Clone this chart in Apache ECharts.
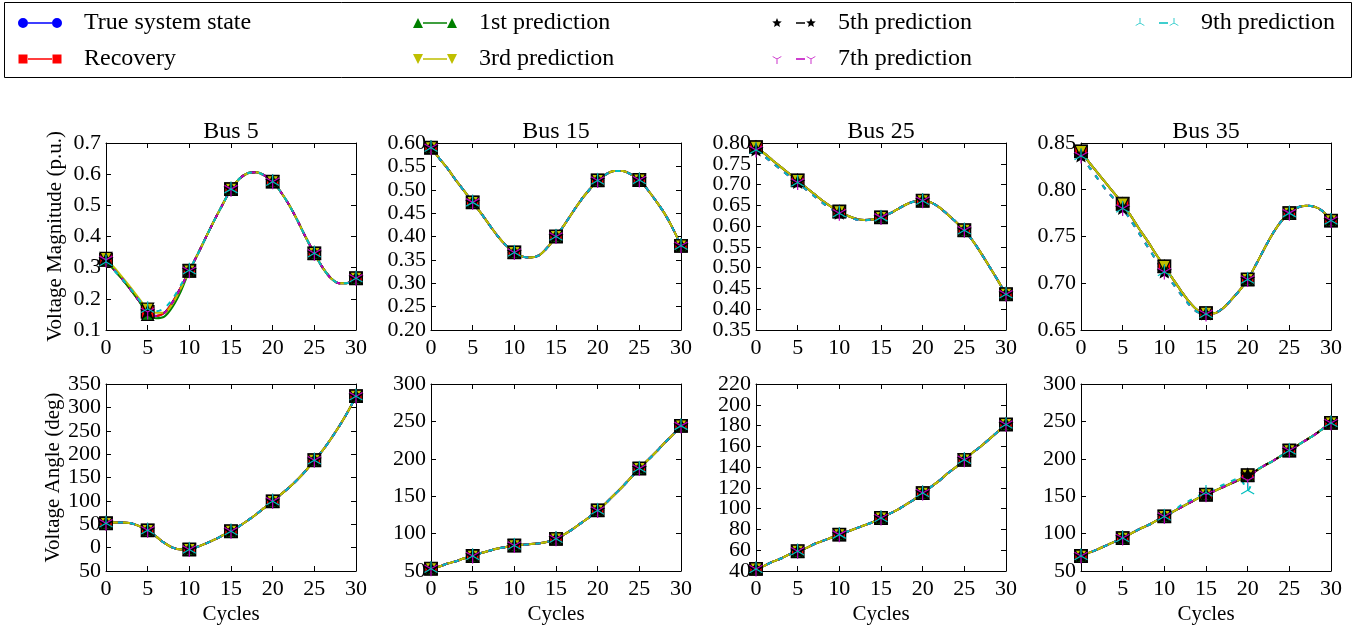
<!DOCTYPE html>
<html>
<head>
<meta charset="utf-8">
<script src="https://cdn.jsdelivr.net/npm/echarts@6/dist/echarts.min.js"></script>
<style>
  html, body { margin: 0; padding: 0; background: #fff; }
  #chart { width: 1364px; height: 626px; }
</style>
</head>
<body>
<div id="chart"></div>
<script>
// x values (cycles)
var cycles = [0,1,2,3,4,5,6,7,8,9,10,11,12,13,14,15,16,17,18,19,20,21,22,23,24,25,26,27,28,29,30];

// voltage magnitude (p.u.), true system state
var bus5Mag  = [0.325,0.292,0.262,0.228,0.192,0.158,0.145,0.155,0.190,0.238,0.290,0.343,0.398,0.452,0.503,0.552,0.585,0.603,0.606,0.596,0.576,0.542,0.500,0.450,0.396,0.346,0.300,0.266,0.250,0.251,0.266];
var bus15Mag = [0.590,0.567,0.545,0.520,0.497,0.473,0.450,0.425,0.401,0.381,0.366,0.357,0.355,0.360,0.377,0.400,0.425,0.452,0.478,0.500,0.520,0.533,0.540,0.540,0.533,0.521,0.500,0.476,0.450,0.418,0.380];
var bus25Mag = [0.790,0.775,0.758,0.742,0.726,0.710,0.693,0.677,0.661,0.647,0.635,0.625,0.618,0.615,0.616,0.621,0.630,0.641,0.652,0.659,0.661,0.657,0.645,0.628,0.610,0.590,0.565,0.535,0.503,0.470,0.436];
var bus35Mag = [0.841,0.829,0.818,0.807,0.796,0.785,0.772,0.758,0.745,0.731,0.718,0.705,0.692,0.680,0.671,0.668,0.668,0.673,0.682,0.692,0.704,0.720,0.737,0.753,0.766,0.775,0.781,0.783,0.782,0.777,0.767];

// predictions that visibly leave the true curve
var bus5Mag1st   = [0.325,0.292,0.262,0.228,0.192,0.150,0.138,0.143,0.175,0.225,0.290,0.343,0.398,0.452,0.503,0.552,0.585,0.603,0.606,0.596,0.576,0.542,0.500,0.450,0.396,0.346,0.300,0.266,0.250,0.251,0.266];
var bus5Mag3rd   = [0.330,0.300,0.268,0.235,0.200,0.167,0.155,0.155,0.185,0.235,0.290,0.343,0.398,0.452,0.503,0.552,0.585,0.603,0.606,0.596,0.576,0.542,0.500,0.450,0.396,0.346,0.300,0.266,0.250,0.251,0.266];
var bus5Mag9th   = [0.318,0.290,0.262,0.230,0.196,0.168,0.160,0.170,0.200,0.245,0.292,0.343,0.398,0.452,0.503,0.552,0.585,0.603,0.606,0.596,0.576,0.542,0.500,0.450,0.396,0.346,0.300,0.266,0.250,0.251,0.266];
var bus25MagLate = [0.783,0.768,0.752,0.736,0.720,0.705,0.688,0.672,0.656,0.642,0.631,0.622,0.616,0.614,0.616,0.621,0.630,0.641,0.652,0.659,0.661,0.657,0.645,0.628,0.610,0.590,0.565,0.535,0.503,0.470,0.436];
var bus35MagLate = [0.836,0.824,0.812,0.800,0.790,0.780,0.767,0.753,0.739,0.725,0.712,0.700,0.688,0.677,0.669,0.667,0.668,0.673,0.682,0.692,0.704,0.720,0.737,0.753,0.766,0.775,0.781,0.783,0.782,0.777,0.767];

// voltage angle (deg), true system state
var bus5Ang  = [52,54,54,52,46,37,24,10,0,-4,-4,2,9,17,26,35,46,58,71,85,99,114,129,146,165,187,208,233,260,290,324];
var bus15Ang = [53,56,60,63,67,70,74,77,80,82,84,85,86,87,89,93,99,106,114,122,131,141,152,163,175,187,198,209,221,232,244];
var bus25Ang = [42,45,49,52,56,59,62,66,69,72,75,78,81,84,87,91,95,99,104,109,115,121,127,134,140,147,154,160,167,174,181];
var bus35Ang = [70,74.5,79,84,89,94,100,106,111,117,123,129,135,141,147,152,157,162,167,172,178,184,191,197,204,211,218,225,232,240,248];
var bus35Ang7th = [70,74.5,79,84,89,94,100,106,111,117,123,129,135,141,147,152,157,162,167,172,171,184,191,197,204,211,218,225,232,240,248];
var bus35Ang9th = [70,74.5,79,84,89,94,100,106,111,117,123,129,138,144,150,155,160,165,170,174,158,184,191,197,204,211,218,225,232,240,248];

// axes
var busTitles = ['Bus 5', 'Bus 15', 'Bus 25', 'Bus 35'];
var magMin = [0.1, 0.2, 0.35, 0.65];
var magMax = [0.7, 0.6, 0.8, 0.85];
var magStep = [0.1, 0.05, 0.05, 0.05];
var magDigits = [1, 2, 2, 2];
var angMin = [-50, 50, 40, 50];
var angMax = [350, 300, 220, 300];
var angStep = [50, 50, 20, 50];

var seriesNames = ['True system state', 'Recovery', '1st prediction', '3rd prediction', '5th prediction', '7th prediction', '9th prediction'];

var magPanels = [bus5Mag, bus15Mag, bus25Mag, bus35Mag];
var angPanels = [bus5Ang, bus15Ang, bus25Ang, bus35Ang];
var magOverrides = [
  { '1st prediction': bus5Mag1st, '3rd prediction': bus5Mag3rd, '9th prediction': bus5Mag9th },
  {},
  { '5th prediction': bus25MagLate, '7th prediction': bus25MagLate, '9th prediction': bus25MagLate },
  { '5th prediction': bus35MagLate, '7th prediction': bus35MagLate, '9th prediction': bus35MagLate }
];
var angOverrides = [{}, {}, {}, { '7th prediction': bus35Ang7th, '9th prediction': bus35Ang9th }];

// ---- styles ----
var FONT = 'Liberation Serif';
var colors = ['#0000ff', '#ff0000', '#008000', '#bfbf00', '#000000', '#bf00bf', '#00bfbf'];
var dashed = [false, false, false, false, true, true, true];

function pt(x, y) { return x.toFixed(2) + ',' + y.toFixed(2); }
function poly(pts) {
  return 'M' + pts.map(function (p) { return pt(p[0], p[1]); }).join(' L') + ' Z ';
}
function circle(cx, cy, r) {
  return 'M' + pt(cx - r, cy) + ' A' + r + ',' + r + ' 0 1,1 ' + pt(cx + r, cy) +
    ' A' + r + ',' + r + ' 0 1,1 ' + pt(cx - r, cy) + ' Z ';
}
function square(cx, cy, r) {
  var h = r * 0.9;
  return poly([[cx - h, cy - h], [cx + h, cy - h], [cx + h, cy + h], [cx - h, cy + h]]);
}
function triUp(cx, cy, r) { return poly([[cx, cy - r], [cx + r, cy + r], [cx - r, cy + r]]); }
function triDown(cx, cy, r) { return poly([[cx - r, cy - r], [cx + r, cy - r], [cx, cy + r]]); }
function star(cx, cy, r) {
  var pts = [];
  for (var k = 0; k < 10; k++) {
    var a = (-90 + k * 36) * Math.PI / 180, rr = k % 2 ? r * 0.45 : r;
    pts.push([cx + rr * Math.cos(a), cy + rr * Math.sin(a)]);
  }
  return poly(pts);
}
function arm(x0, y0, x1, y1, w) {
  var dx = x1 - x0, dy = y1 - y0, l = Math.sqrt(dx * dx + dy * dy);
  var nx = -dy / l * w / 2, ny = dx / l * w / 2;
  return poly([[x0 + nx, y0 + ny], [x1 + nx, y1 + ny], [x1 - nx, y1 - ny], [x0 - nx, y0 - ny]]);
}
function yDown(cx, cy, r, w) {
  return arm(cx, cy, cx, cy + r, w) + arm(cx, cy, cx - 0.866 * r, cy - 0.5 * r, w) + arm(cx, cy, cx + 0.866 * r, cy - 0.5 * r, w);
}
function yUp(cx, cy, r, w) {
  return arm(cx, cy, cx, cy - r, w) + arm(cx, cy, cx - 0.866 * r, cy + 0.5 * r, w) + arm(cx, cy, cx + 0.866 * r, cy + 0.5 * r, w);
}

var shapes = [
  function (cx, cy, r) { return circle(cx, cy, r); },
  function (cx, cy, r) { return square(cx, cy, r); },
  function (cx, cy, r) { return triUp(cx, cy, r); },
  function (cx, cy, r) { return triDown(cx, cy, r); },
  function (cx, cy, r) { return star(cx, cy, r); },
  function (cx, cy, r) { return yDown(cx, cy, r, r * 0.16); },
  function (cx, cy, r) { return yUp(cx, cy, r, r * 0.16); }
];
var markerSize = [12, 14, 12, 12, 16, 15, 15];
var edgeWidth = [1, 1.3, 1.2, 1.2, 0, 0, 0];

function plotSymbol(i) { return 'path://M0,0 M20,20 ' + shapes[i](10, 10, 10); }

function legendIcon(i) {
  var p = 'path://M0,0 M61,14 ';
  p += dashed[i] ? poly([[24, 6.2], [33, 6.2], [33, 7.8], [24, 7.8]])
                 : poly([[10, 6.2], [34, 6.2], [34, 7.8], [10, 7.8]]);
  return p + shapes[i](5, 7, 5) + shapes[i](39, 7, 5);
}

var chart = echarts.init(document.getElementById('chart'));
var option = {
  animation: false,
  textStyle: { fontFamily: FONT },
  grid: [], xAxis: [], yAxis: [], series: [], legend: [],
  graphic: [{
    type: 'rect', shape: { x: 4.5, y: 2.5, width: 1347, height: 75 },
    style: { fill: 'none', stroke: '#000', lineWidth: 1 }, silent: true
  }]
};

var legendCols = [[0, 1], [2, 3], [4, 5], [6]];
var legendLefts = [18, 413, 772, 1135];
legendCols.forEach(function (col, c) {
  option.legend.push({
    orient: 'vertical', left: legendLefts[c], top: 11, padding: 0, itemGap: 12,
    itemWidth: 61, itemHeight: 14, selectedMode: false,
    textStyle: { fontFamily: FONT, fontSize: 24, color: '#000', lineHeight: 24 },
    data: col.map(function (i) {
      return { name: seriesNames[i], icon: legendIcon(i),
        itemStyle: { color: colors[i], borderWidth: 0, borderColor: 'transparent' } };
    })
  });
});

var gridLefts = [106, 431, 756, 1081];
var gridTops = [143, 384];
var tickText = { fontFamily: FONT, fontSize: 22, color: '#000' };
var nameText = { fontFamily: FONT, fontSize: 21, color: '#000' };

function baseAxis(g) {
  return {
    type: 'value', gridIndex: g,
    axisLine: { onZero: false, lineStyle: { color: '#000', width: 1 } },
    axisTick: { inside: true, length: 5, lineStyle: { color: '#000', width: 1 } },
    splitLine: { show: false }
  };
}
function tickFormatter(d) {
  // the minus glyph is missing in the source figure
  return function (v) { return Math.abs(v).toFixed(d); };
}

for (var r = 0; r < 2; r++) {
  for (var c = 0; c < 4; c++) {
    var g = r * 4 + c;
    option.grid.push({ left: gridLefts[c], top: gridTops[r], width: 250, height: 187, outerBoundsMode: 'none' });

    var xb = baseAxis(g);
    Object.assign(xb, { position: 'bottom', min: 0, max: 30, interval: 5,
      axisLabel: Object.assign({ margin: 7, showMinLabel: true, showMaxLabel: true }, tickText) });
    if (r === 1) Object.assign(xb, { name: 'Cycles', nameLocation: 'middle', nameGap: 33, nameTextStyle: nameText });
    var xt = baseAxis(g);
    Object.assign(xt, { position: 'top', min: 0, max: 30, interval: 5, axisLabel: { show: false } });
    if (r === 0) Object.assign(xt, { name: busTitles[c], nameLocation: 'middle', nameGap: -1,
      nameTextStyle: { fontFamily: FONT, fontSize: 24, color: '#000' } });
    option.xAxis.push(xb, xt);

    var lo = r === 0 ? magMin[c] : angMin[c];
    var hi = r === 0 ? magMax[c] : angMax[c];
    var st = r === 0 ? magStep[c] : angStep[c];
    var digits = r === 0 ? magDigits[c] : 0;

    // inner tick labels (min/max labels come from the extra axis below,
    // so ECharts does not drop their neighbours for overlapping)
    var yl = baseAxis(g);
    Object.assign(yl, { position: 'left', min: lo, max: hi, interval: st,
      axisLabel: Object.assign({ margin: 5, showMinLabel: false, showMaxLabel: false,
        formatter: tickFormatter(digits) }, tickText) });
    if (c === 0) Object.assign(yl, { name: r === 0 ? 'Voltage Magnitude (p.u.)' : 'Voltage Angle (deg)',
      nameLocation: 'middle', nameGap: 40, nameTextStyle: nameText });
    var yr = baseAxis(g);
    Object.assign(yr, { position: 'right', min: lo, max: hi, interval: st, axisLabel: { show: false } });
    var ye = {
      type: 'value', gridIndex: g, position: 'left', min: lo, max: hi,
      interval: Math.round((hi - lo) * 1000) / 1000,
      axisLine: { show: false, onZero: false }, axisTick: { show: false }, splitLine: { show: false },
      axisLabel: Object.assign({ margin: 5, showMinLabel: true, showMaxLabel: true,
        formatter: tickFormatter(digits) }, tickText)
    };
    option.yAxis.push(yl, yr, ye);

    var truth = r === 0 ? magPanels[c] : angPanels[c];
    var over = r === 0 ? magOverrides[c] : angOverrides[c];
    seriesNames.forEach(function (name, i) {
      var vals = over[name] || truth;
      var size = markerSize[i];
      option.series.push({
        name: name, type: 'line', xAxisIndex: 2 * g, yAxisIndex: 3 * g,
        data: cycles.map(function (x, k) { return [x, vals[k]]; }),
        smooth: 0.3, showAllSymbol: true,
        symbol: plotSymbol(i),
        symbolSize: function (v, p) { return p.dataIndex % 5 === 0 ? size : 0; },
        itemStyle: { color: colors[i], borderColor: edgeWidth[i] ? '#000' : colors[i], borderWidth: edgeWidth[i] },
        lineStyle: { color: colors[i], width: 2, type: dashed[i] ? [5, 7] : 'solid' },
        emphasis: { disabled: true }, silent: true
      });
    });
  }
}

chart.setOption(option);
</script>
</body>
</html>
